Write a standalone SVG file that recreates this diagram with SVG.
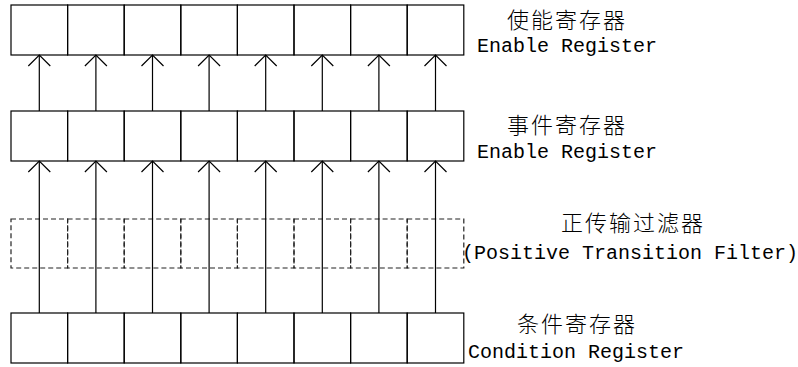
<svg xmlns="http://www.w3.org/2000/svg" width="798" height="367" viewBox="0 0 798 367">
<style>
.cell{fill:none;stroke:#000;stroke-width:1.2}
.dash{fill:none;stroke:#222;stroke-width:1.2;stroke-dasharray:5,3}
.conn{fill:none;stroke:#000;stroke-width:1.2}
.cjk{font-family:"Noto Sans CJK SC","Noto Sans CJK JP",sans-serif;font-size:22px;font-weight:300;letter-spacing:2px;fill:#000}
.lat{font-family:"Liberation Mono",monospace;font-size:20px;fill:#000}
</style>
<defs>
<marker id="arr" markerUnits="userSpaceOnUse" viewBox="-12 -12 24 24" markerWidth="24" markerHeight="24" refX="0" refY="0" orient="auto" overflow="visible">
<path d="M-11,-11 L0,0 L-11,11" fill="none" stroke="#000" stroke-width="1.2"/>
</marker>
</defs>
<rect width="798" height="367" fill="#fff"/>
<g id="enable-register">
<rect class="cell" x="11" y="5" width="56.6" height="50"/>
<rect class="cell" x="67.6" y="5" width="56.6" height="50"/>
<rect class="cell" x="124.2" y="5" width="56.6" height="50"/>
<rect class="cell" x="180.8" y="5" width="56.6" height="50"/>
<rect class="cell" x="237.4" y="5" width="56.6" height="50"/>
<rect class="cell" x="294" y="5" width="56.6" height="50"/>
<rect class="cell" x="350.6" y="5" width="56.6" height="50"/>
<rect class="cell" x="407.2" y="5" width="56.6" height="50"/>
<text class="cjk" x="507" y="28">使能寄存器</text>
<text class="lat" x="477" y="52">Enable Register</text>
</g>
<g id="event-register">
<rect class="cell" x="11" y="111" width="56.6" height="50"/>
<rect class="cell" x="67.6" y="111" width="56.6" height="50"/>
<rect class="cell" x="124.2" y="111" width="56.6" height="50"/>
<rect class="cell" x="180.8" y="111" width="56.6" height="50"/>
<rect class="cell" x="237.4" y="111" width="56.6" height="50"/>
<rect class="cell" x="294" y="111" width="56.6" height="50"/>
<rect class="cell" x="350.6" y="111" width="56.6" height="50"/>
<rect class="cell" x="407.2" y="111" width="56.6" height="50"/>
<text class="cjk" x="507" y="133">事件寄存器</text>
<text class="lat" x="477" y="158">Enable Register</text>
</g>
<g id="transition-filter">
<rect class="dash" x="11" y="219" width="56.6" height="49"/>
<rect class="dash" x="67.6" y="219" width="56.6" height="49"/>
<rect class="dash" x="124.2" y="219" width="56.6" height="49"/>
<rect class="dash" x="180.8" y="219" width="56.6" height="49"/>
<rect class="dash" x="237.4" y="219" width="56.6" height="49"/>
<rect class="dash" x="294" y="219" width="56.6" height="49"/>
<rect class="dash" x="350.6" y="219" width="56.6" height="49"/>
<rect class="dash" x="407.2" y="219" width="56.6" height="49"/>
<text class="cjk" x="561" y="231">正传输过滤器</text>
<text class="lat" x="462" y="259">(Positive Transition Filter)</text>
</g>
<g id="condition-register">
<rect class="cell" x="11" y="313" width="56.6" height="50"/>
<rect class="cell" x="67.6" y="313" width="56.6" height="50"/>
<rect class="cell" x="124.2" y="313" width="56.6" height="50"/>
<rect class="cell" x="180.8" y="313" width="56.6" height="50"/>
<rect class="cell" x="237.4" y="313" width="56.6" height="50"/>
<rect class="cell" x="294" y="313" width="56.6" height="50"/>
<rect class="cell" x="350.6" y="313" width="56.6" height="50"/>
<rect class="cell" x="407.2" y="313" width="56.6" height="50"/>
<text class="cjk" x="517" y="332">条件寄存器</text>
<text class="lat" x="468" y="358">Condition Register</text>
</g>
<g id="connectors">
<line class="conn" x1="39.3" y1="111" x2="39.3" y2="55" marker-end="url(#arr)"/>
<line class="conn" x1="95.9" y1="111" x2="95.9" y2="55" marker-end="url(#arr)"/>
<line class="conn" x1="152.5" y1="111" x2="152.5" y2="55" marker-end="url(#arr)"/>
<line class="conn" x1="209.1" y1="111" x2="209.1" y2="55" marker-end="url(#arr)"/>
<line class="conn" x1="265.7" y1="111" x2="265.7" y2="55" marker-end="url(#arr)"/>
<line class="conn" x1="322.3" y1="111" x2="322.3" y2="55" marker-end="url(#arr)"/>
<line class="conn" x1="378.9" y1="111" x2="378.9" y2="55" marker-end="url(#arr)"/>
<line class="conn" x1="435.5" y1="111" x2="435.5" y2="55" marker-end="url(#arr)"/>
<line class="conn" x1="39.3" y1="313" x2="39.3" y2="161" marker-end="url(#arr)"/>
<line class="conn" x1="95.9" y1="313" x2="95.9" y2="161" marker-end="url(#arr)"/>
<line class="conn" x1="152.5" y1="313" x2="152.5" y2="161" marker-end="url(#arr)"/>
<line class="conn" x1="209.1" y1="313" x2="209.1" y2="161" marker-end="url(#arr)"/>
<line class="conn" x1="265.7" y1="313" x2="265.7" y2="161" marker-end="url(#arr)"/>
<line class="conn" x1="322.3" y1="313" x2="322.3" y2="161" marker-end="url(#arr)"/>
<line class="conn" x1="378.9" y1="313" x2="378.9" y2="161" marker-end="url(#arr)"/>
<line class="conn" x1="435.5" y1="313" x2="435.5" y2="161" marker-end="url(#arr)"/>
</g>
</svg>
